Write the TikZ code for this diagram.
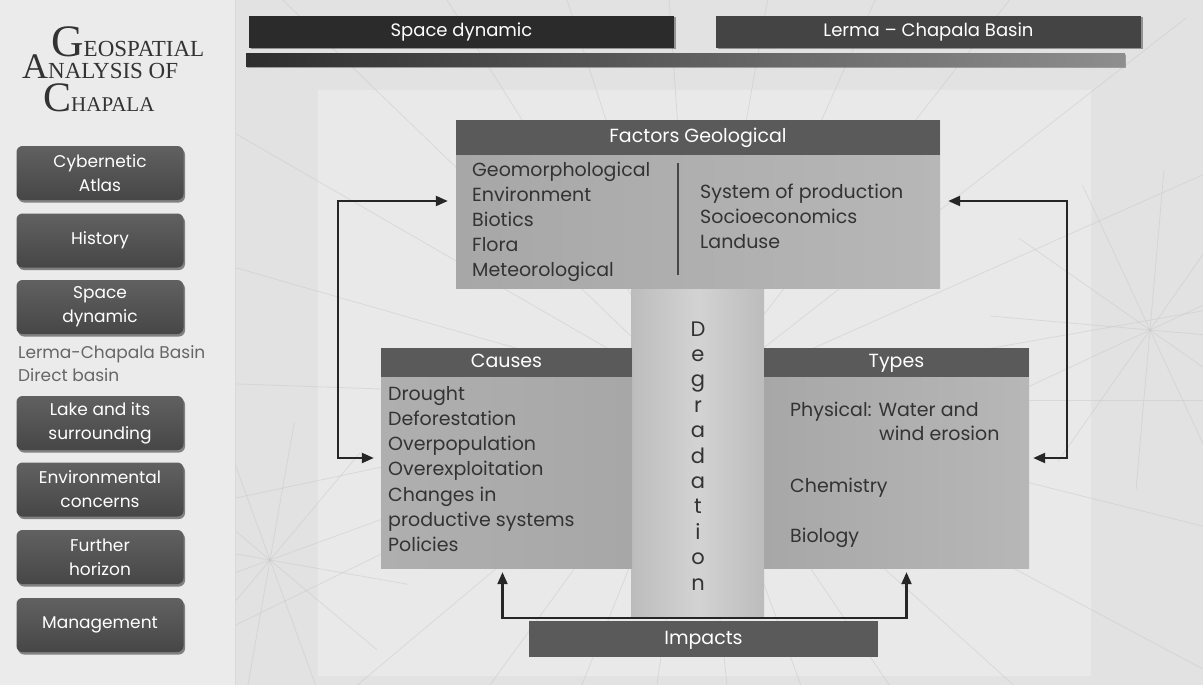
\documentclass[tikz,border=0pt]{standalone}
\usepackage{fontspec}
\setmainfont{Poppins}
\newfontfamily\titlefont{Liberation Serif}
\usetikzlibrary{arrows.meta,positioning,shadows,calc}
\definecolor{bgpaper}{HTML}{E2E2E2}
\definecolor{bgpanel}{HTML}{EBEBEB}
\definecolor{bgframe}{HTML}{E9E9E9}
\definecolor{headgray}{HTML}{5A5A5A}
\definecolor{bodygray}{HTML}{A7A7A7}
\definecolor{bodylight}{HTML}{B7B7B7}
\definecolor{inkgray}{HTML}{333333}
\definecolor{btntop}{HTML}{616161}
\definecolor{btnbot}{HTML}{464646}
\definecolor{bardark}{HTML}{2B2B2B}
\definecolor{barmid}{HTML}{444444}
\definecolor{stripdark}{HTML}{2E2E2E}
\definecolor{striplight}{HTML}{8E8E8E}
\definecolor{degedge}{HTML}{BCBCBC}
\definecolor{degmid}{HTML}{D3D3D3}
\definecolor{sidegray}{HTML}{666666}
\definecolor{arrowink}{HTML}{262626}
\definecolor{veingray}{HTML}{C9C9C9}
\tikzset{
  menubtn/.style={rectangle,rounded corners=6pt,top color=btntop,bottom color=btnbot,
                  minimum width=167pt,minimum height=54pt,text=white,align=center,
                  font=\fontsize{17}{24}\selectfont,inner sep=0pt,
                  drop shadow={shadow xshift=1.5pt,shadow yshift=-2.5pt,opacity=.45,fill=black}},
  topbar/.style={rectangle,fill=#1,minimum width=425pt,minimum height=32pt,text=white,
                 font=\fontsize{18}{18}\selectfont,inner sep=0pt,
                 text height=13pt,text depth=4pt,
                 drop shadow={shadow xshift=1.5pt,shadow yshift=-1.5pt,opacity=.35,fill=black}},
  headbar/.style={rectangle,fill=headgray,text=white,text height=14pt,text depth=4pt,
                  font=\fontsize{19}{19}\selectfont,inner sep=0pt},
  panel/.style={rectangle,left color=bodygray,right color=bodylight,inner sep=0pt},
  bodytext/.style={anchor=base west,text=inkgray,font=\fontsize{19}{19}\selectfont,inner sep=0pt},
  sidetext/.style={anchor=base west,text=sidegray,font=\fontsize{17}{17}\selectfont,inner sep=0pt},
  titletext/.style={anchor=base west,inner sep=0pt,text=inkgray,font=\titlefont},
  degletter/.style={anchor=base,text=inkgray,font=\fontsize{21}{21}\selectfont,inner sep=0pt},
  vein/.style={veingray,line width=0.8pt,opacity=.5},
  link/.style={{Triangle[length=12pt,width=10pt]}-{Triangle[length=12pt,width=10pt]},
               line width=2.2pt,arrowink},
}
\begin{document}
\begin{tikzpicture}[x=1pt,y=-1pt]
% page and panels
\fill[bgpaper] (0,0) rectangle (1203,685);
\useasboundingbox (0,0) rectangle (1203,685);
\fill[bgpanel] (0,0) rectangle (235,685);
\draw[gray!30,line width=1pt] (235,0) -- (235,685);
\draw[gray!22,fill=bgframe,line width=1pt] (317,90) rectangle (1091,676);

% marble veins
\begin{scope}
  \clip (236,0) rectangle (1203,685);
  \coordinate (burst) at (697,400);
  \coordinate (burst-r) at (1150,330);
  \coordinate (burst-l) at (270,560);
  \foreach \a in {0,14,...,359}
    \draw[vein] (burst) -- ++(\a:620);
  \foreach \a in {5,35,...,359}
    \draw[vein] (burst-r) -- ++(\a:160);
  \foreach \a in {10,40,...,359}
    \draw[vein] (burst-l) -- ++(\a:140);
\end{scope}

% title
\node[titletext,text depth=0pt] (title-1) at (51,57)
  {{\fontsize{45}{45}\selectfont G}{\fontsize{23}{23}\selectfont EOSPATIAL}};
\node[titletext,text height=15pt,text depth=0pt] (title-2) at (22,78)
  {{\fontsize{36}{36}\selectfont A}{\fontsize{23}{23}\selectfont NALYSIS OF}};
\node[titletext,text height=30pt] (title-3) at (43,111)
  {{\fontsize{42}{42}\selectfont C}{\fontsize{21}{21}\selectfont HAPALA}};

% menu
\foreach \n/\y/\t in {atlas/173/{Cybernetic\\Atlas},
                      history/240.5/History,
                      space/307/{Space\\dynamic},
                      lake/423/{Lake and its\\surrounding},
                      env/489.5/{Environmental\\concerns},
                      horizon/557/{Further\\horizon},
                      manage/625/Management}{
  \node[menubtn] (btn-\n) at (100,\y) {\t};
}
\node[sidetext] (basin-1) at (18,358) {Lerma-Chapala Basin};
\node[sidetext] (basin-2) at (18,381) {Direct basin};

% top bars
\node[topbar=bardark] (bar-space) at (461.5,32) {Space dynamic};
\node[topbar=barmid] (bar-lerma) at (928.5,32) {Lerma -- Chapala Basin};
\node[rectangle,left color=stripdark,right color=striplight,minimum width=879pt,
      minimum height=13pt,inner sep=0pt,
      drop shadow={shadow xshift=1pt,shadow yshift=-1pt,opacity=.3,fill=black}] (strip) at (685.5,60.5) {};

% degradation column
\node[rectangle,left color=degedge,right color=degedge,middle color=degmid,
      minimum width=133pt,minimum height=330pt,inner sep=0pt] (degr) at (697.5,453) {};
\foreach \l [count=\i from 0] in {D,e,g,r,a,d,a,t,i,o,n}
  \node[degletter] (deg-\i) at (698,336+25.4*\i) {\l};

% factors
\node[panel,minimum width=484pt,minimum height=168pt] (factors) at (698,204) {};
\node[headbar,minimum width=484pt,minimum height=35pt,anchor=north] (factors-head)
  at (factors.north) {Factors Geological};
\draw[inkgray!90,line width=1.5pt] (678,163) -- (678,275);
\foreach \t [count=\i from 0] in {Geomorphological,Environment,Biotics,Flora,Meteorological}
  \node[bodytext] (geo-\i) at (472,176+25*\i) {\t};
\foreach \t [count=\i from 0] in {System of production,Socioeconomics,Landuse}
  \node[bodytext] (soc-\i) at (700,198+25*\i) {\t};

% causes
\node[panel,left color=bodylight!50!bodygray,right color=bodygray,
      minimum width=251pt,minimum height=220pt] (causes) at (506.5,458) {};
\node[headbar,minimum width=251pt,minimum height=29pt,anchor=north] (causes-head)
  at (causes.north) {Causes};
\foreach \t [count=\i from 0] in {Drought,Deforestation,Overpopulation,Overexploitation,
                                  Changes in,productive systems,Policies}
  \node[bodytext] (cause-\i) at (388,400+25.3*\i) {\t};

% types
\node[panel,minimum width=265pt,minimum height=220pt] (types) at (896.5,458) {};
\node[headbar,minimum width=265pt,minimum height=29pt,anchor=north] (types-head)
  at (types.north) {Types};
\node[bodytext] (type-1) at (790,416) {Physical: Water and};
\node[bodytext] (type-2) at (879,440) {wind erosion};
\node[bodytext] (type-3) at (790,492) {Chemistry};
\node[bodytext] (type-4) at (790,542) {Biology};

% impacts
\node[headbar,minimum width=349pt,minimum height=36pt] (impacts) at (703.5,639) {Impacts};

% connectors
\draw[link,shorten <=8pt,shorten >=7pt] ([yshift=3pt]factors.west) -- ++(-118,0) |- (causes.west);
\draw[link,shorten <=8pt,shorten >=4pt] ([yshift=3pt]factors.east) -- ++(127,0) |- (types.east);
\draw[link,shorten <=4pt,shorten >=4pt] ([xshift=-4pt]causes.south) -- ++(0,50)
  -| ([xshift=10pt]types.south);
\end{tikzpicture}
\end{document}
